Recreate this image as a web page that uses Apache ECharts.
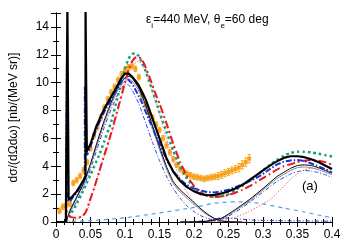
<!DOCTYPE html>
<html><head><meta charset="utf-8">
<script src="https://cdn.jsdelivr.net/npm/echarts@6/dist/echarts.min.js"></script>
<style>html,body{margin:0;padding:0;background:#fff}#c{width:356px;height:249px}</style>
</head><body><div id="c"></div>
<script>
// ---- data ----
const dataX = [0.005,0.01,0.015,0.02,0.025,0.03,0.035,0.04,0.045,0.05,0.055,0.06,0.065,0.07,0.075,0.08,0.085,0.09,0.095,0.1,0.105,0.11,0.115,0.12,0.125,0.13,0.135,0.14,0.145,0.15,0.155,0.16,0.165,0.17,0.175,0.18,0.185,0.19,0.195,0.2,0.205,0.21,0.215,0.22,0.225,0.23,0.235,0.24,0.245,0.25,0.255,0.26,0.265,0.27,0.275,0.28];
const dataY = [0.8,1.1,1.2,1.3,2.8,3.0,3.3,3.7,4.3,5.3,6.2,6.8,7.5,8.2,8.8,9.3,9.7,10.2,10.6,10.9,11.1,11.2,11.0,10.4,9.1,8.4,7.9,7.5,7.0,6.6,6.0,5.5,5.0,4.5,4.1,3.8,3.6,3.45,3.35,3.25,3.2,3.15,3.1,3.15,3.2,3.25,3.3,3.4,3.5,3.6,3.7,3.8,3.9,4.1,4.3,4.55];
const dataErr = [0.2,0.2,0.2,0.2,0.2,0.2,0.2,0.2,0.2,0.2,0.2,0.2,0.2,0.2,0.2,0.2,0.2,0.2,0.2,0.2,0.2,0.2,0.2,0.2,0.2,0.2,0.2,0.2,0.2,0.2,0.2,0.2,0.2,0.2,0.2,0.2,0.2,0.2,0.2,0.2,0.2,0.2,0.2,0.2,0.2,0.2,0.25,0.25,0.25,0.25,0.25,0.25,0.3,0.3,0.3,0.3];

const blackThick = [[0,0],[0.0143,0],[0.0148,3.9],[0.0165,3.9],[0.0165,15.5],[0.0183,15.5],[0.0183,1.6],[0.021,1.6],[0.024,1.85],[0.03,2.2],[0.035,2.6],[0.041,3.1],[0.0428,3.3],[0.0428,15.5],[0.0446,15.5],[0.0446,5.05],[0.05,5.6],[0.058,6.8],[0.065,7.6],[0.072,8.3],[0.08,9.0],[0.087,9.6],[0.095,10.35],[0.1,10.65],[0.105,10.65],[0.11,10.45],[0.115,10.15],[0.12,9.8],[0.13,8.8],[0.14,7.4],[0.15,6.0],[0.16,4.6],[0.17,3.6],[0.18,2.95],[0.19,2.5],[0.2,2.2],[0.21,2.0],[0.22,1.92],[0.23,1.95],[0.24,2.05],[0.25,2.2],[0.26,2.4],[0.27,2.65],[0.28,3.0],[0.29,3.35],[0.3,3.7],[0.31,4.05],[0.32,4.35],[0.33,4.6],[0.34,4.72],[0.35,4.72],[0.36,4.65],[0.37,4.5],[0.38,4.3],[0.39,4.05],[0.4,3.8]];
const blueThick = [[0.0143,0],[0.0148,3.7],[0.0158,3.7],[0.0158,11.4],[0.0162,11.4],[0.0175,1.5],[0.021,1.5],[0.024,1.75],[0.03,2.1],[0.035,2.5],[0.04,2.9],[0.0418,3.2],[0.0418,9.7],[0.0422,9.7],[0.045,4.8],[0.05,5.4],[0.058,6.6],[0.065,7.4],[0.072,8.1],[0.08,8.8],[0.087,9.4],[0.095,10.1],[0.1,10.3],[0.105,10.2],[0.11,9.95],[0.115,9.5],[0.123,8.75],[0.13,7.9],[0.137,7.1],[0.145,6.15],[0.152,5.4],[0.16,4.5],[0.17,3.65],[0.18,3.05],[0.19,2.65],[0.2,2.4],[0.21,2.25],[0.22,2.15],[0.23,2.12],[0.24,2.2],[0.25,2.32],[0.26,2.5],[0.27,2.7],[0.28,2.92],[0.29,3.15],[0.3,3.45],[0.31,3.8],[0.32,4.12],[0.33,4.33],[0.34,4.42],[0.35,4.45],[0.36,4.38],[0.37,4.2],[0.38,4.0],[0.39,3.8],[0.4,3.55]];
const redThick = [[0.0143,0],[0.0155,0.8],[0.018,0.5],[0.022,0.35],[0.03,0.3],[0.038,0.4],[0.043,0.7],[0.048,1.4],[0.055,2.4],[0.0625,3.6],[0.07,4.8],[0.08,6.4],[0.09,8.2],[0.1,10.0],[0.105,10.9],[0.11,11.5],[0.115,11.8],[0.12,11.85],[0.125,11.6],[0.13,11.1],[0.137,10.2],[0.145,9.1],[0.15,8.5],[0.16,7.1],[0.17,5.6],[0.18,4.3],[0.19,3.3],[0.2,2.6],[0.21,2.1],[0.22,1.85],[0.23,1.8],[0.24,1.85],[0.25,1.95],[0.26,2.1],[0.27,2.3],[0.28,2.55],[0.29,2.85],[0.3,3.15],[0.31,3.45],[0.32,3.75],[0.33,4.0],[0.34,4.15],[0.35,4.3],[0.36,4.4],[0.37,4.45],[0.38,4.4],[0.39,4.3],[0.4,4.1]];
const greenThick = [[0.0145,0],[0.019,0.4],[0.029,1.2],[0.036,1.9],[0.043,2.65],[0.05,3.4],[0.0625,4.8],[0.07,5.8],[0.08,7.2],[0.09,9.1],[0.1,11.0],[0.105,11.7],[0.11,12.05],[0.115,12.1],[0.12,11.9],[0.125,11.4],[0.13,10.8],[0.14,9.4],[0.15,7.9],[0.16,6.5],[0.17,5.1],[0.18,3.95],[0.19,3.1],[0.2,2.5],[0.21,2.1],[0.22,1.9],[0.23,1.8],[0.24,1.85],[0.25,2.0],[0.26,2.3],[0.27,2.6],[0.28,2.95],[0.29,3.3],[0.3,3.7],[0.31,4.1],[0.32,4.45],[0.33,4.75],[0.34,4.95],[0.35,5.05],[0.36,5.05],[0.37,5.0],[0.38,4.9],[0.39,4.8],[0.4,4.7]];

const qeBlack = [[0.0145,0],[0.02,0.8],[0.03,1.8],[0.04,2.8],[0.05,4.2],[0.06,5.8],[0.07,7.3],[0.08,8.6],[0.09,9.7],[0.1,10.35],[0.105,10.45],[0.11,10.35],[0.12,9.6],[0.13,8.4],[0.14,6.9],[0.15,5.4],[0.16,4.0],[0.17,2.9],[0.18,2.3],[0.19,1.85],[0.2,1.4],[0.21,0.95],[0.22,0.55],[0.23,0.25],[0.24,0.08],[0.25,0.02],[0.27,0]];
const qeGray = [[0.0145,0],[0.02,0.7],[0.03,1.7],[0.04,2.7],[0.05,4.0],[0.06,5.6],[0.07,7.1],[0.08,8.4],[0.09,9.5],[0.1,10.15],[0.105,10.25],[0.11,10.15],[0.12,9.4],[0.13,8.2],[0.14,6.7],[0.15,5.2],[0.16,3.8],[0.17,2.75],[0.18,2.15],[0.19,1.7],[0.2,1.25],[0.21,0.85],[0.22,0.5],[0.23,0.22],[0.24,0.07],[0.25,0.02],[0.27,0]];
const qeBlue = [[0.0145,0],[0.02,0.6],[0.03,1.5],[0.04,2.5],[0.05,3.8],[0.06,5.3],[0.07,6.8],[0.08,8.1],[0.09,9.2],[0.1,9.9],[0.105,9.85],[0.11,9.5],[0.12,8.5],[0.13,7.1],[0.14,5.7],[0.15,4.4],[0.16,3.3],[0.17,2.4],[0.18,1.7],[0.19,1.15],[0.2,0.75],[0.21,0.45],[0.22,0.25],[0.23,0.12],[0.24,0.05],[0.26,0]];
const qeRed = [[0.0145,0],[0.03,0.2],[0.045,0.8],[0.06,3.2],[0.08,6.2],[0.1,9.8],[0.11,11.2],[0.12,11.55],[0.13,10.8],[0.14,9.3],[0.15,7.7],[0.16,6.0],[0.17,4.4],[0.18,3.1],[0.19,2.1],[0.2,1.4],[0.21,0.85],[0.22,0.5],[0.23,0.25],[0.24,0.1],[0.26,0.02],[0.28,0]];

const dlBlack = [[0.18,0],[0.2,0.01],[0.22,0.06],[0.24,0.28],[0.26,0.9],[0.28,1.6],[0.3,2.4],[0.32,3.25],[0.34,3.85],[0.35,4.05],[0.36,4.1],[0.37,4.05],[0.38,3.9],[0.39,3.7],[0.4,3.5]];
const dlGray = [[0.18,0],[0.2,0.01],[0.22,0.05],[0.24,0.25],[0.26,0.82],[0.28,1.5],[0.3,2.3],[0.32,3.1],[0.34,3.7],[0.35,3.9],[0.36,3.95],[0.37,3.9],[0.38,3.75],[0.39,3.58],[0.4,3.4]];
const dlBlue = [[0.2,0],[0.22,0.05],[0.24,0.2],[0.26,0.7],[0.28,1.4],[0.3,2.15],[0.32,2.9],[0.34,3.45],[0.35,3.62],[0.36,3.7],[0.37,3.65],[0.38,3.55],[0.39,3.4],[0.4,3.2]];
const dlRed = [[0.22,0],[0.24,0.1],[0.26,0.35],[0.28,0.75],[0.296,1.2],[0.31,1.6],[0.325,2.3],[0.344,3.25],[0.36,3.75],[0.37,3.85],[0.38,3.85],[0.39,3.8],[0.4,3.7]];
const mecBlue = [[0,0],[0.05,0.1],[0.1,0.3],[0.15,0.65],[0.2,1.05],[0.23,1.35],[0.26,1.45],[0.28,1.42],[0.3,1.3],[0.33,1.0],[0.36,0.72],[0.38,0.5],[0.4,0.3]];
const smallBlue = [[0.18,0],[0.22,0.1],[0.24,0.3],[0.26,0.25],[0.28,0.15],[0.32,0.1],[0.4,0.06]];

const xTicks = [0,0.05,0.1,0.15,0.2,0.25,0.3,0.35,0.4];
const yTicks = [0,2,4,6,8,10,12,14];

// ---- chart ----
const FONT = 'Liberation Sans';
const chart = echarts.init(document.getElementById('c'), null, {renderer:'canvas'});
const orange = '#f7a21b';
const errData = dataX.map((x,i)=>[x,dataY[i],dataErr[i]]);
function line(data,color,width,type,z,smooth){
  return {type:'line',data:data,showSymbol:false,symbol:'none',smooth:smooth===undefined?0.2:smooth,
    lineStyle:{color:color,width:width,type:type,join:'bevel'},z:z,animation:false,silent:true};
}
const axisCommon = {
  type:'value', axisLine:{show:true,lineStyle:{color:'#000',width:1}},
  axisTick:{inside:true,length:5,lineStyle:{color:'#000'}},
  minorTick:{show:true,length:3,lineStyle:{color:'#000'}},
  splitLine:{show:false}, minorSplitLine:{show:false}
};
const option = {
  animation:false,
  grid:{left:55,right:24,top:13,bottom:27},
  xAxis:[
    Object.assign({},axisCommon,{min:0,max:0.4,interval:0.05,position:'bottom',
      minorTick:{show:true,length:3,splitNumber:4,lineStyle:{color:'#000'}},
      axisLabel:{color:'#000',fontFamily:FONT,fontSize:12,margin:7,
        formatter:v=>{const t=xTicks.find(k=>Math.abs(k-v)<1e-9);return t===undefined?'':String(t);}}}),
    Object.assign({},axisCommon,{min:0,max:0.4,interval:0.05,position:'top',
      minorTick:{show:true,length:3,splitNumber:4,lineStyle:{color:'#000'}},
      axisLabel:{show:false}})
  ],
  yAxis:[
    Object.assign({},axisCommon,{min:0,max:15,interval:2,position:'left',
      minorTick:{show:true,length:3,splitNumber:2,lineStyle:{color:'#000'}},
      name:'dσ/(dΩdω) [nb/(MeV sr)]',nameLocation:'middle',nameGap:36,nameRotate:90,
      nameTextStyle:{color:'#000',fontFamily:FONT,fontSize:12},
      axisLabel:{color:'#000',fontFamily:FONT,fontSize:12,margin:7,showMaxLabel:false,
        formatter:v=>yTicks.indexOf(v)>=0?String(v):''}}),
    Object.assign({},axisCommon,{min:0,max:15,interval:2,position:'right',
      minorTick:{show:true,length:3,splitNumber:2,lineStyle:{color:'#000'}},
      axisLabel:{show:false}})
  ],
  graphic:[
    {type:'text',left:146,top:14,silent:true,style:{
      text:'{a|ε}{s|i}{a|=440 MeV, θ}{s|e}{a|=60 deg}',
      rich:{a:{fontFamily:FONT,fontSize:12,fill:'#000',lineHeight:16,verticalAlign:'bottom'},
            s:{fontFamily:FONT,fontSize:8,fill:'#000',lineHeight:16,verticalAlign:'bottom',padding:[0,0,-4,0]}}}},
    {type:'text',left:302,top:180,silent:true,style:{text:'(a)',fontFamily:FONT,fontSize:13,fill:'#000'}}
  ],
  series:[
    {type:'custom',data:errData,z:1,silent:true,animation:false,clip:true,
      renderItem:function(params,api){
        const x=api.value(0),y=api.value(1),e=api.value(2);
        const c=api.coord([x,y]),lo=api.coord([x,y-e]),hi=api.coord([x,y+e]);
        return {type:'group',children:[
          {type:'line',shape:{x1:c[0],y1:lo[1],x2:c[0],y2:hi[1]},style:{stroke:orange,lineWidth:1}},
          {type:'line',shape:{x1:c[0]-1.5,y1:lo[1],x2:c[0]+1.5,y2:lo[1]},style:{stroke:orange,lineWidth:1}},
          {type:'line',shape:{x1:c[0]-1.5,y1:hi[1],x2:c[0]+1.5,y2:hi[1]},style:{stroke:orange,lineWidth:1}},
          {type:'rect',shape:{x:c[0]-2,y:c[1]-2,width:4,height:4},style:{fill:orange}}
        ]};
      }},
    line(mecBlue,'#4ba3dc',1.2,[4,4],2),
    line(smallBlue,'#2233cc',1,[4,2,1,2],2),
    line(qeRed,'#f08080',1,[1.5,1.5],2),
    line(qeBlue,'#2a3fe0',1,[4,2,1,2],2),
    line(qeGray,'#888888',1,'solid',2),
    line(qeBlack,'#000000',1,'solid',2),
    line(dlRed,'#f07070',1,[1.5,1.5],2),
    line(dlBlue,'#2a3fe0',1,[4,2,1,2],2),
    line(dlGray,'#888888',1,'solid',2),
    line(dlBlack,'#000000',1,'solid',2),
    line(greenThick,'#1b9e77',2.5,[2.5,3],3),
    line(redThick,'#e8191f',2,[8,3,2,3],3),
    line(blueThick,'#1a30e0',2,[6,2,1.5,2],3,false),
    line(blackThick,'#000000',2.2,'solid',4,false)
  ]
};
chart.setOption(option);
</script></body></html>
